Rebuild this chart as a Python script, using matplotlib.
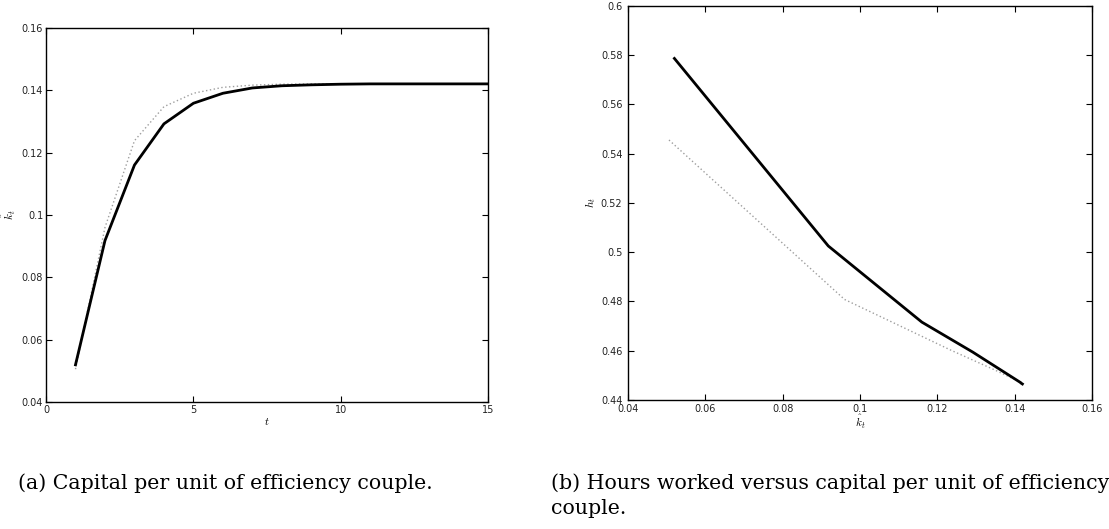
import numpy as np
import matplotlib
matplotlib.use("Agg")
import matplotlib.pyplot as plt

plt.rcParams['mathtext.fontset'] = 'cm'
plt.rcParams['font.family'] = ['DejaVu Sans']

# time periods
t = list(range(1, 16))

# capital per unit of efficiency couple (solid and dotted paths)
k_solid = [0.0520, 0.0918, 0.1160, 0.1292, 0.1358, 0.1390, 0.1407, 0.1414,
           0.1417, 0.1419, 0.1420, 0.1420, 0.1420, 0.1420, 0.1420]
k_dotted = [0.0506, 0.0960, 0.1238, 0.1347, 0.1390, 0.1409, 0.1416, 0.1419,
            0.1420, 0.1420, 0.1420, 0.1420, 0.1420, 0.1420, 0.1420]

# hours worked
h_solid = [0.5786, 0.5025, 0.4716, 0.4594, 0.4528, 0.4496, 0.4479, 0.4472,
           0.4468, 0.4466, 0.4465, 0.4465, 0.4465, 0.4465, 0.4465]
h_dotted = [0.5455, 0.4808, 0.4600, 0.4523, 0.4491, 0.4478, 0.4473, 0.4470,
            0.4468, 0.4467, 0.4467, 0.4467, 0.4467, 0.4467, 0.4467]

left_xticks = [0, 5, 10, 15]
left_yticks = [0.04, 0.06, 0.08, 0.1, 0.12, 0.14, 0.16]
right_xticks = [0.04, 0.06, 0.08, 0.1, 0.12, 0.14, 0.16]
right_yticks = [0.44, 0.46, 0.48, 0.5, 0.52, 0.54, 0.56, 0.58, 0.6]

caption_a = "(a) Capital per unit of efficiency couple."
caption_b = "(b) Hours worked versus capital per unit of efficiency\ncouple."

W, H = 1109, 529
fig = plt.figure(figsize=(W / 100, H / 100), dpi=100)

ax1 = fig.add_axes([46 / W, (H - 402.3) / H, 442.3 / W, 374.6 / H])
ax2 = fig.add_axes([628 / W, (H - 400) / H, 464 / W, 394.3 / H])

dot_style = dict(color='0.62', lw=1.0, linestyle=(0, (1, 1.8)))
solid_style = dict(color='black', lw=2.0, solid_joinstyle='miter')

ax1.plot(t, k_dotted, **dot_style)
ax1.plot(t, k_solid, **solid_style)
ax1.set_xlim(0, 15)
ax1.set_ylim(0.04, 0.16)
ax1.set_xticks(left_xticks)
ax1.set_xticklabels([str(v) for v in left_xticks])
ax1.set_yticks(left_yticks)
ax1.set_yticklabels(['%g' % v for v in left_yticks])
ax1.set_xlabel(r'$t$', fontsize=8, labelpad=1)
ax1.set_ylabel(r'$\hat{k}_t$', fontsize=8, labelpad=3)

ax2.plot(k_dotted, h_dotted, **dot_style)
ax2.plot(k_solid, h_solid, **solid_style)
ax2.set_xlim(0.04, 0.16)
ax2.set_ylim(0.44, 0.6)
ax2.set_xticks(right_xticks)
ax2.set_xticklabels(['%g' % v for v in right_xticks])
ax2.set_yticks(right_yticks)
ax2.set_yticklabels(['%g' % v for v in right_yticks])
ax2.set_xlabel(r'$\hat{k}_t$', fontsize=8, labelpad=-1)
ax2.set_ylabel(r'$h_t$', fontsize=8, labelpad=2)

for ax in (ax1, ax2):
    ax.tick_params(direction='in', length=4, width=0.8, labelsize=7,
                   top=True, right=True, pad=2, colors='black',
                   labelcolor='#222222')
    for s in ax.spines.values():
        s.set_linewidth(1.0)
ax2.tick_params(axis='y', pad=4)
ax2.tick_params(axis='x', pad=3)

fig.text(18 / W, 1 - 473 / H, caption_a, fontsize=14.8, family='DejaVu Serif',
         ha='left', va='top')
fig.text(551 / W, 1 - 473 / H, caption_b, fontsize=14.8, family='DejaVu Serif',
         ha='left', va='top', linespacing=1.4)

fig.savefig('out.png', dpi=100)
